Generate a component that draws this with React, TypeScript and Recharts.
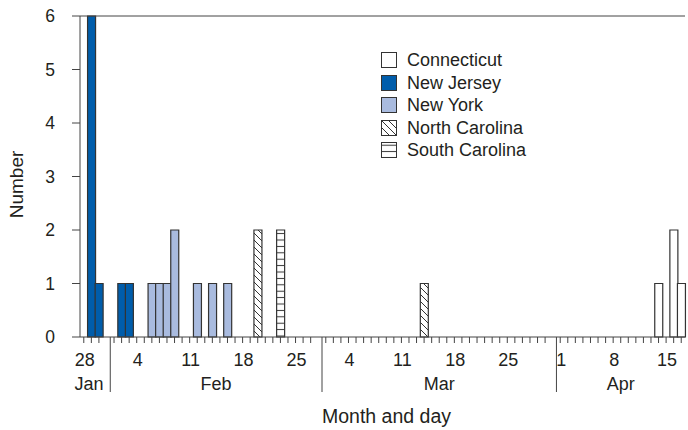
import React from 'react';
import { BarChart, Bar, XAxis, YAxis, ReferenceLine, Legend } from 'recharts';

// ---- categories (days shown on the axis) ----
const monthNames = ['Jan', 'Feb', 'Mar', 'Apr'];
const monthFirstDay = [28, 1, 1, 1];
const monthLastDay = [31, 28, 31, 17];
const labeledDays = ['Jan 28', 'Feb 4', 'Feb 11', 'Feb 18', 'Feb 25', 'Mar 4', 'Mar 11', 'Mar 18', 'Mar 25', 'Apr 1', 'Apr 8', 'Apr 15'];
const yTicks = [0, 1, 2, 3, 4, 5, 6];

// ---- series values (date, number) ----
const connecticut: [string, number][] = [['Apr 14', 1], ['Apr 16', 2], ['Apr 17', 1]];
const newJersey: [string, number][] = [['Jan 29', 6], ['Jan 30', 1], ['Feb 2', 1], ['Feb 3', 1]];
const newYork: [string, number][] = [['Feb 6', 1], ['Feb 7', 1], ['Feb 8', 1], ['Feb 9', 2], ['Feb 12', 1], ['Feb 14', 1], ['Feb 16', 1]];
const northCarolina: [string, number][] = [['Feb 20', 2], ['Mar 14', 1]];
const southCarolina: [string, number][] = [['Feb 23', 2]];

const states = [
  { key: 'CT', name: 'Connecticut', values: connecticut, fill: '#ffffff' },
  { key: 'NJ', name: 'New Jersey', values: newJersey, fill: '#005dab' },
  { key: 'NY', name: 'New York', values: newYork, fill: '#a9bbdf' },
  { key: 'NC', name: 'North Carolina', values: northCarolina, fill: 'url(#hatchDiag)' },
  { key: 'SC', name: 'South Carolina', values: southCarolina, fill: 'url(#hatchHoriz)' },
];

type Cat = { key: string; day: number; month: number; isFirst: boolean; isLast: boolean; monthCount: number };
const categories: Cat[] = [];
monthNames.forEach((m, mi) => {
  const count = monthLastDay[mi] - monthFirstDay[mi] + 1;
  for (let d = monthFirstDay[mi]; d <= monthLastDay[mi]; d++) {
    categories.push({ key: `${m} ${d}`, day: d, month: mi, isFirst: d === monthFirstDay[mi], isLast: d === monthLastDay[mi], monthCount: count });
  }
});

const data = categories.map((c) => {
  const row: any = { key: c.key };
  states.forEach((s) => {
    const hit = s.values.find((v) => v[0] === c.key);
    row[s.key] = hit ? hit[1] : null;
  });
  return row;
});

// ---- layout ----
const W = 688;
const H = 430;
const LEFT = 80;
const RIGHT_MARGIN = 3;
const TOP = 16;
const XAXIS_H = 93;
const SLOT = (W - LEFT - RIGHT_MARGIN) / categories.length;
const FONT = '"Liberation Sans", Arial, Helvetica, sans-serif';
const AXIS = '#444';
const TEXT = '#231f20';
const monthLabelShift = [-6, 0, 0, 0];

function DayTick(props: any) {
  const { x, y, payload } = props;
  const idx = payload?.index ?? 0;
  const c = categories[idx];
  if (!c) return null;
  const isFinal = idx === categories.length - 1;
  const els: any[] = [];
  if (!c.isLast || isFinal) {
    els.push(<line key="t" x1={x} x2={x} y1={y} y2={y + 6} stroke={AXIS} strokeWidth={1} />);
  }
  if (c.isFirst && idx > 0) {
    const bx = x - SLOT / 2;
    els.push(<line key="d" x1={bx} x2={bx} y1={y} y2={y + 55} stroke={AXIS} strokeWidth={1} />);
  }
  if (labeledDays.includes(c.key)) {
    els.push(
      <text key="l" x={x + 1} y={y + 29} textAnchor="middle" fontSize={18} fontFamily={FONT} fill={TEXT}>
        {c.day}
      </text>
    );
  }
  if (c.isFirst) {
    const mx = x - SLOT / 2 + (c.monthCount * SLOT) / 2 + monthLabelShift[c.month];
    els.push(
      <text key="m" x={mx} y={y + 53} textAnchor="middle" fontSize={18} fontFamily={FONT} fill={TEXT}>
        {monthNames[c.month]}
      </text>
    );
  }
  return <g>{els}</g>;
}

function XTitle(props: any) {
  const vb = props.viewBox || {};
  const cx = (vb.x ?? LEFT) + (vb.width ?? 0) / 2;
  return (
    <text x={cx + 4} y={H - 7} textAnchor="middle" fontSize={19.5} fontFamily={FONT} fill={TEXT}>
      Month and day
    </text>
  );
}

function YTitle(props: any) {
  const vb = props.viewBox || {};
  const cy = (vb.y ?? TOP) + (vb.height ?? 0) / 2 + 8;
  const cx = 23;
  return (
    <text x={cx} y={cy} transform={`rotate(-90, ${cx}, ${cy})`} textAnchor="middle" fontSize={19} fontFamily={FONT} fill={TEXT}>
      Number
    </text>
  );
}

function LegendContent() {
  return (
    <div style={{ fontFamily: FONT, fontSize: 18, color: TEXT }}>
      {states.map((s) => (
        <div key={s.key} style={{ display: 'flex', alignItems: 'center', height: 22.5, whiteSpace: 'nowrap' }}>
          <svg width={16} height={16} style={{ display: 'block', marginRight: 10 }}>
            <rect x={0.5} y={0.5} width={15} height={15} fill={s.fill} stroke="#333" strokeWidth={1} />
          </svg>
          <span style={{ lineHeight: '22.5px' }}>{s.name}</span>
        </div>
      ))}
    </div>
  );
}

export default function App() {
  return (
    <div style={{ position: 'absolute', left: 0, top: 0, width: W, height: H, background: '#fff' }}>
      <svg width={0} height={0} style={{ position: 'absolute' }}>
        <defs>
          <pattern id="hatchDiag" patternUnits="userSpaceOnUse" width={7} height={7}>
            <rect width={7} height={7} fill="#fff" />
            <path d="M0,0 L7,7 M5.5,-1.5 L8.5,1.5 M-1.5,5.5 L1.5,8.5" stroke="#333" strokeWidth={1} />
          </pattern>
          <pattern id="hatchHoriz" patternUnits="userSpaceOnUse" width={8} height={6.4}>
            <rect width={8} height={6.4} fill="#fff" />
            <path d="M0,3.2 L8,3.2" stroke="#333" strokeWidth={1} />
          </pattern>
        </defs>
      </svg>
      <BarChart
        width={W}
        height={H}
        data={data}
        margin={{ top: TOP, right: RIGHT_MARGIN, bottom: 0, left: 0 }}
        barCategoryGap={0}
        barGap={0}
      >
        <XAxis
          dataKey="key"
          type="category"
          interval={0}
          height={XAXIS_H}
          tickLine={false}
          tickSize={0}
          tickMargin={0}
          tick={<DayTick />}
          axisLine={{ stroke: AXIS, strokeWidth: 1 }}
          label={<XTitle />}
        />
        <YAxis
          domain={[0, 6]}
          ticks={yTicks}
          width={LEFT}
          tickSize={8}
          tickMargin={17}
          allowDecimals={false}
          axisLine={{ stroke: AXIS, strokeWidth: 1 }}
          tickLine={{ stroke: AXIS, strokeWidth: 1 }}
          tick={{ fontSize: 17.5, fontFamily: FONT, fill: TEXT }}
          label={<YTitle />}
        />
        <ReferenceLine y={6} stroke={AXIS} strokeWidth={1} ifOverflow="visible" />
        {states.map((s) => (
          <Bar
            key={s.key}
            dataKey={s.key}
            name={s.name}
            stackId="a"
            fill={s.fill}
            stroke="#333"
            strokeWidth={1.2}
            isAnimationActive={false}
          />
        ))}
        <Legend
          layout="vertical"
          align="center"
          verticalAlign="middle"
          content={<LegendContent />}
          wrapperStyle={{ position: 'absolute', left: 381, top: 49, width: 200, height: 115 }}
        />
      </BarChart>
    </div>
  );
}
